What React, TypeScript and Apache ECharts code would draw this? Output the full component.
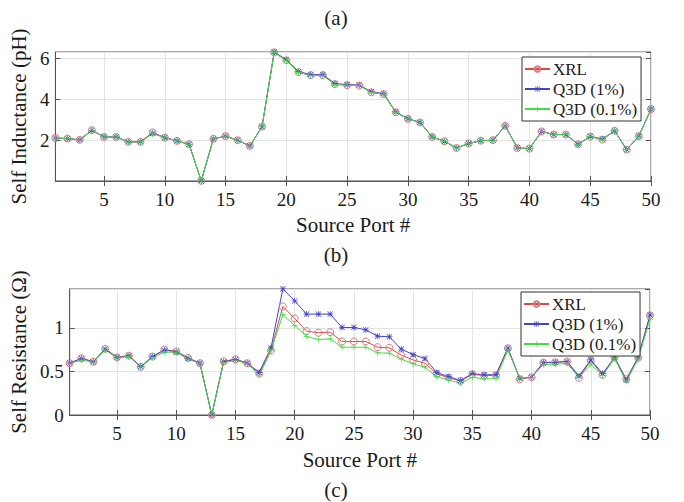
import React, { useEffect, useRef } from 'react';
import * as echarts from 'echarts';

const ports = ['1','2','3','4','5','6','7','8','9','10','11','12','13','14','15','16','17','18','19','20','21','22','23','24','25','26','27','28','29','30','31','32','33','34','35','36','37','38','39','40','41','42','43','44','45','46','47','48','49','50'];
const seriesNames = ['XRL', 'Q3D (1%)', 'Q3D (0.1%)'];

// (a) Self inductance (pH)
const indXRL = [2.11, 2.08, 2.02, 2.49, 2.16, 2.16, 1.92, 1.92, 2.38, 2.13, 1.97, 1.8, 0.01, 2.07, 2.2, 2.0, 1.72, 2.67, 6.31, 5.92, 5.34, 5.19, 5.19, 4.75, 4.7, 4.68, 4.35, 4.26, 3.37, 3.05, 2.87, 2.16, 1.95, 1.62, 1.84, 1.98, 2.0, 2.71, 1.62, 1.59, 2.43, 2.28, 2.28, 1.8, 2.18, 2.03, 2.46, 1.54, 2.2, 3.53];
const indQ1 = [2.11, 2.08, 2.02, 2.49, 2.16, 2.16, 1.92, 1.92, 2.35, 2.13, 1.97, 1.8, 0.01, 2.07, 2.2, 2.0, 1.72, 2.67, 6.33, 5.95, 5.37, 5.22, 5.22, 4.78, 4.73, 4.71, 4.38, 4.29, 3.39, 3.06, 2.88, 2.17, 1.95, 1.62, 1.84, 1.98, 2.0, 2.71, 1.62, 1.59, 2.43, 2.28, 2.28, 1.8, 2.19, 2.06, 2.46, 1.54, 2.2, 3.53];
const indQ01 = [2.11, 2.08, 2.02, 2.49, 2.16, 2.16, 1.92, 1.92, 2.32, 2.13, 1.97, 1.8, 0.01, 2.07, 2.2, 2.0, 1.72, 2.67, 6.31, 5.91, 5.33, 5.18, 5.18, 4.74, 4.7, 4.68, 4.35, 4.26, 3.37, 3.05, 2.87, 2.16, 1.95, 1.62, 1.84, 1.98, 2.0, 2.71, 1.62, 1.59, 2.43, 2.28, 2.28, 1.8, 2.18, 2.03, 2.46, 1.54, 2.2, 3.53];

// (b) Self resistance (Ohm)
const resXRL = [0.594, 0.65, 0.61, 0.76, 0.66, 0.68, 0.55, 0.67, 0.75, 0.73, 0.655, 0.594, 0.0, 0.617, 0.64, 0.594, 0.475, 0.74, 1.245, 1.107, 0.962, 0.943, 0.95, 0.843, 0.843, 0.843, 0.778, 0.77, 0.686, 0.632, 0.594, 0.471, 0.429, 0.39, 0.467, 0.452, 0.456, 0.766, 0.41, 0.433, 0.601, 0.605, 0.613, 0.425, 0.625, 0.46, 0.659, 0.41, 0.659, 1.142];
const resQ1 = [0.594, 0.65, 0.61, 0.755, 0.66, 0.68, 0.555, 0.67, 0.745, 0.725, 0.65, 0.594, 0.0, 0.612, 0.638, 0.594, 0.49, 0.77, 1.445, 1.31, 1.157, 1.157, 1.157, 1.004, 1.004, 0.977, 0.904, 0.897, 0.755, 0.693, 0.648, 0.486, 0.44, 0.395, 0.475, 0.46, 0.463, 0.766, 0.42, 0.433, 0.601, 0.605, 0.613, 0.448, 0.632, 0.475, 0.659, 0.402, 0.659, 1.146];
const resQ01 = [0.59, 0.63, 0.605, 0.745, 0.655, 0.67, 0.55, 0.66, 0.72, 0.72, 0.64, 0.59, 0.0, 0.6, 0.625, 0.59, 0.45, 0.735, 1.15, 1.027, 0.9, 0.866, 0.873, 0.778, 0.778, 0.778, 0.713, 0.709, 0.64, 0.586, 0.548, 0.44, 0.402, 0.364, 0.433, 0.414, 0.418, 0.747, 0.42, 0.433, 0.579, 0.583, 0.59, 0.432, 0.579, 0.452, 0.648, 0.383, 0.64, 1.1];

const captions = ['(a)', '(b)', '(c)'];

const FONT = '"Liberation Serif", "Times New Roman", serif';
const RED = '#d84a4a';
const BLUE = '#4444c8';
const GREEN = '#44dd44';
const BOX = '#555555';
const GRIDC = '#e4e4e4';
const TXT = '#1a1a1a';

const PLUS = 'path://M4.4,0h1.2v10h-1.2Z M0,4.4h10v1.2h-10Z';
const STAR = 'path://M4.4,0h1.2v10h-1.2Z M0,4.4h10v1.2h-10Z M1,0.2L9.8,9L9,9.8L0.2,1Z M9,0.2L9.8,1L1,9.8L0.2,9Z';

const every5 = (i: number) => (i + 1) % 5 === 0;

function catAxis(gridIndex: number, main: boolean, nameGap: number) {
  return {
    type: 'category',
    gridIndex,
    position: main ? 'bottom' : 'top',
    data: ports,
    boundaryGap: false,
    axisLine: { show: main, lineStyle: { color: BOX, width: 1 } },
    axisTick: { show: true, inside: true, length: 5, interval: every5, lineStyle: { color: BOX } },
    axisLabel: { show: main, interval: every5, margin: 9, fontFamily: FONT, fontSize: 19, color: TXT },
    splitLine: { show: main, interval: every5, lineStyle: { color: GRIDC, width: 1 } },
    name: main ? 'Source Port #' : '',
    nameLocation: 'middle',
    nameGap,
    nameTextStyle: { fontFamily: FONT, fontSize: 21, color: TXT },
  };
}

function valAxis(gridIndex: number, main: boolean, max: number, interval: number, name: string, nameGap: number) {
  return {
    type: 'value',
    gridIndex,
    position: main ? 'left' : 'right',
    min: 0,
    max,
    interval,
    axisLine: { show: main, lineStyle: { color: BOX, width: 1 } },
    axisTick: { show: true, inside: true, length: 5, lineStyle: { color: BOX } },
    axisLabel: {
      show: main,
      margin: 6,
      fontFamily: FONT,
      fontSize: 19,
      color: TXT,
      showMaxLabel: false,
      formatter: (v: number) => {
        const k = v / interval;
        if (Math.abs(k - Math.round(k)) > 1e-6) return '';
        if (name.indexOf('Inductance') >= 0 && v === 0) return '';
        return String(Math.round(v * 1000) / 1000);
      },
    },
    splitLine: { show: main, lineStyle: { color: GRIDC, width: 1 } },
    name: main ? name : '',
    nameLocation: 'middle',
    nameGap,
    nameRotate: 90,
    nameTextStyle: { fontFamily: FONT, fontSize: 21, color: TXT },
  };
}

function lineSeries(name: string, data: number[], idx: number) {
  const base: any = {
    name,
    type: 'line',
    xAxisIndex: idx,
    yAxisIndex: idx,
    data,
    showAllSymbol: true,
    lineStyle: { width: 1 },
  };
  if (name === 'XRL') {
    return { ...base, symbol: 'circle', symbolSize: 7, color: RED, lineStyle: { width: 1, color: RED }, itemStyle: { color: 'rgba(255,255,255,0)', borderColor: '#d77a7a', borderWidth: 1 } };
  }
  if (name === 'Q3D (1%)') {
    return { ...base, symbol: STAR, symbolSize: 6, color: BLUE, lineStyle: { width: 1, color: BLUE }, itemStyle: { color: BLUE } };
  }
  return { ...base, symbol: PLUS, symbolSize: 6, color: GREEN, lineStyle: { width: 1, color: GREEN }, itemStyle: { color: GREEN } };
}

function legendAt(left: number, top: number) {
  return {
    orient: 'vertical',
    left,
    top,
    data: seriesNames,
    itemWidth: 25,
    itemHeight: 7,
    itemGap: 0,
    padding: [2, 4, 2, 2],
    backgroundColor: '#ffffff',
    borderColor: '#333333',
    borderWidth: 1,
    borderRadius: 0,
    selectedMode: false,
    textStyle: { fontFamily: FONT, fontSize: 17, color: TXT, lineHeight: 20, padding: [0, 0, 0, -2] },
  };
}

export default function App() {
  const ref = useRef<HTMLDivElement>(null);
  useEffect(() => {
    if (!ref.current) return;
    const chart = echarts.init(ref.current, undefined, { renderer: 'svg' });
    const indData = [indXRL, indQ1, indQ01];
    const resData = [resXRL, resQ1, resQ01];
    chart.setOption({
      animation: false,
      backgroundColor: '#ffffff',
      grid: [
        { left: 50, top: 52, width: 601, height: 129, show: true, borderColor: BOX, borderWidth: 1, backgroundColor: 'transparent' },
        { left: 62, top: 289, width: 588, height: 126, show: true, borderColor: BOX, borderWidth: 1, backgroundColor: 'transparent' },
      ],
      xAxis: [catAxis(0, true, 33), catAxis(1, true, 34), catAxis(0, false, 0), catAxis(1, false, 0)],
      yAxis: [
        valAxis(0, true, 6.33, 2, 'Self Inductance (pH)', 19),
        valAxis(1, true, 1.445, 0.5, 'Self Resistance (Ω)', 30),
        valAxis(0, false, 6.33, 2, '', 0),
        valAxis(1, false, 1.445, 0.5, '', 0),
      ],
      legend: [legendAt(522, 57), legendAt(521, 292)],
      series: [
        ...seriesNames.map((n, i) => lineSeries(n, indData[i], 0)),
        ...seriesNames.map((n, i) => lineSeries(n, resData[i], 1)),
      ],
      graphic: [
        { type: 'text', x: 336, y: 18, style: { text: captions[0], align: 'center', verticalAlign: 'middle', fontFamily: FONT, fontSize: 21, fill: TXT } },
        { type: 'text', x: 336, y: 255, style: { text: captions[1], align: 'center', verticalAlign: 'middle', fontFamily: FONT, fontSize: 21, fill: TXT } },
        { type: 'text', x: 336, y: 490, style: { text: captions[2], align: 'center', verticalAlign: 'middle', fontFamily: FONT, fontSize: 21, fill: TXT } },
      ],
    });
    return () => chart.dispose();
  }, []);
  return <div ref={ref} style={{ position: 'fixed', left: 0, top: 0, width: 684, height: 502 }} />;
}
